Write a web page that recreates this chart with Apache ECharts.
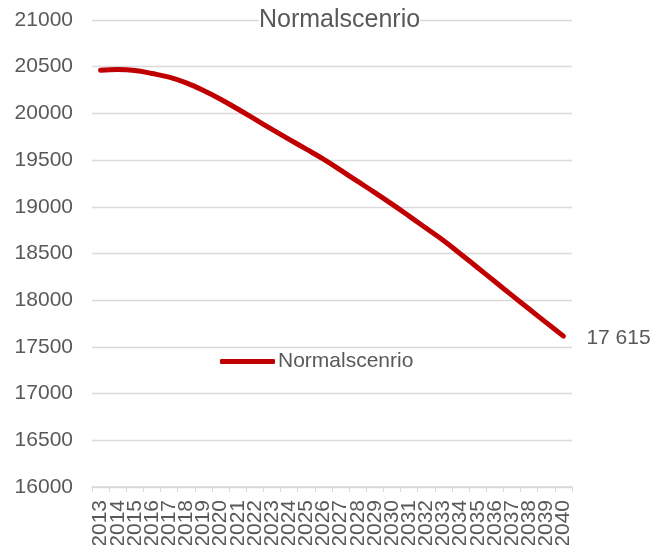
<!DOCTYPE html>
<html>
<head>
<meta charset="utf-8">
<script src="https://cdn.jsdelivr.net/npm/echarts@6/dist/echarts.min.js"></script>
<style>
html,body{margin:0;padding:0;background:#fff;}
#chart{width:664px;height:545px;}
</style>
</head>
<body>
<div id="chart"></div>
<script>
const years = ['2013','2014','2015','2016','2017','2018','2019','2020','2021','2022','2023','2024','2025','2026','2027','2028','2029','2030','2031','2032','2033','2034','2035','2036','2037','2038','2039','2040'];
const normalscenrio = [20462,20469,20459,20427,20388,20326,20245,20152,20047,19938,19829,19722,19617,19510,19392,19272,19152,19028,18900,18770,18640,18495,18348,18200,18052,17905,17760,17615];
const seriesName = 'Normalscenrio';
const titleText = 'Normalscenrio';

const FONT = '"Liberation Sans", Arial, sans-serif';
const GREY = '#595959';

function fmtSpace(v){
  return String(Math.round(v)).replace(/\B(?=(\d{3})+(?!\d))/g, ' ');
}

const chart = echarts.init(document.getElementById('chart'), null, {renderer:'canvas'});
chart.setOption({
  animation:false,
  backgroundColor:'#ffffff',
  textStyle:{fontFamily:FONT},
  title:{
    text:titleText,
    left:259, top:8,
    padding:0,
    backgroundColor:'#ffffff',
    textStyle:{fontFamily:FONT, fontSize:25, fontWeight:'normal', color:GREY}
  },
  legend:{
    data:[seriesName],
    left:220, top:351,
    itemWidth:55, itemHeight:5,
    icon:'roundRect',
    itemGap:0,
    padding:0,
    textStyle:{fontFamily:FONT, fontSize:21, color:GREY, padding:[0,0,0,-2]}
  },
  grid:{left:92, right:92, top:20, bottom:58, containLabel:false, outerBoundsMode:'none'},
  xAxis:{
    type:'category',
    data:years,
    boundaryGap:true,
    axisLine:{show:true, lineStyle:{color:'#d9d9d9', width:1.5}},
    axisTick:{show:true, interval:0, length:5, lineStyle:{color:'#d9d9d9', width:1}},
    axisLabel:{interval:0, rotate:90, margin:13, fontFamily:FONT, fontSize:21, color:GREY, hideOverlap:false},
    splitLine:{show:false}
  },
  yAxis:{
    type:'value',
    min:16000, max:21000, interval:500,
    axisLine:{show:false},
    axisTick:{show:false},
    axisLabel:{margin:19, fontFamily:FONT, fontSize:21, color:GREY, formatter:function(v){return String(v);}},
    splitLine:{show:true, lineStyle:{color:'#d9d9d9', width:1.3}}
  },
  series:[{
    name:seriesName,
    type:'line',
    data:normalscenrio,
    smooth:0.4,
    showSymbol:false,
    symbol:'none',
    lineStyle:{color:'#c00000', width:5, cap:'round', join:'round'},
    itemStyle:{color:'#c00000'},
    endLabel:{
      show:true,
      distance:23,
      offset:[0,2],
      formatter:function(p){return fmtSpace(p.value);},
      fontFamily:FONT, fontSize:21, color:GREY
    }
  }]
});
</script>
</body>
</html>
